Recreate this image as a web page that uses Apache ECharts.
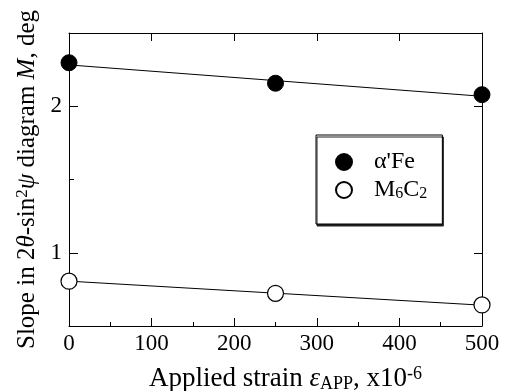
<!DOCTYPE html>
<html><head><meta charset="utf-8">
<script src="https://cdn.jsdelivr.net/npm/echarts@6/dist/echarts.min.js"></script>
<style>html,body{margin:0;padding:0;background:#fff}#c{width:507px;height:391px}</style>
</head><body><div id="c"></div>
<script>
const strain = [0, 250, 500];
const feM = [2.297, 2.157, 2.079];
const m6c2M = [0.806, 0.723, 0.644];
const fitStrain = [0, 500];
const feFit = [2.282, 2.068];
const m6c2Fit = [0.806, 0.642];
const xTickLabels = [0, 100, 200, 300, 400, 500];
const yTickLabels = [1, 2];
const yMinorTicks = [1.5];
const seriesNames = ["α'Fe", "M6C2"];

const FONT = '"Liberation Serif", "Times New Roman", serif';
const FS = 23;
const chart = echarts.init(document.getElementById('c'));
const zip = (xs, ys) => xs.map((x, i) => [x, ys[i]]);
const baseX = {min: 0, max: 500, interval: 100};
const baseY = {min: 0.5, max: 2.5};
const lineStyle = {color: '#000', width: 1};
const makeRich = (fs, ss) => ({
  n: {fontFamily: FONT, fontSize: fs, color: '#000'},
  i: {fontFamily: FONT, fontSize: fs, fontStyle: 'italic', color: '#000'},
  sup: {fontFamily: FONT, fontSize: ss, color: '#000', verticalAlign: 'top', padding: [0, 0, 10, 0]},
  sub: {fontFamily: FONT, fontSize: ss, color: '#000', verticalAlign: 'bottom', padding: [8, 0, 0, 0]}
});

chart.setOption({
  animation: false,
  grid: {left: 69, right: 25, top: 33, bottom: 65, containLabel: false, outerBoundsMode: 'none'},
  xAxis: [
    Object.assign({}, baseX, {
      type: 'value', position: 'bottom',
      axisLine: {lineStyle},
      axisTick: {inside: true, length: 8, lineStyle, customValues: xTickLabels},
      minorTick: {show: true, splitNumber: 2, length: 4, lineStyle},
      splitLine: {show: false},
      axisLabel: {customValues: xTickLabels, fontFamily: FONT, fontSize: FS, color: '#000', margin: 6},
      name: '{n|Applied strain }{i|ε}{sub|APP}{n|, x10}{sup|-6}',
      nameLocation: 'middle', nameGap: 39,
      nameTextStyle: {rich: makeRich(27, 18), padding: [0, 0, 0, 20]}
    }),
    Object.assign({}, baseX, {
      type: 'value', position: 'top',
      axisLine: {lineStyle},
      axisTick: {inside: true, length: 8, lineStyle, customValues: [100, 200, 300, 400]},
      axisLabel: {show: false}, splitLine: {show: false}
    })
  ],
  yAxis: [
    Object.assign({}, baseY, {
      type: 'value', position: 'left',
      axisLine: {show: true, lineStyle},
      axisTick: {inside: true, length: 9, lineStyle, customValues: yTickLabels},
      axisLabel: {customValues: yTickLabels, fontFamily: FONT, fontSize: FS, color: '#000', margin: 7},
      splitLine: {show: false},
      name: '{n|Slope in 2}{i|θ}{n|-sin}{sup|2}{i|ψ}{n| diagram }{i|M}{n|, deg}',
      nameLocation: 'middle', nameGap: 24, nameRotate: 90,
      nameTextStyle: {rich: makeRich(25, 17)}
    }),
    Object.assign({}, baseY, {
      type: 'value', position: 'left',
      axisLine: {show: false},
      axisTick: {inside: true, length: 5, lineStyle, customValues: yMinorTicks},
      axisLabel: {show: false}, splitLine: {show: false}
    }),
    Object.assign({}, baseY, {
      type: 'value', position: 'right',
      axisLine: {show: true, lineStyle},
      axisTick: {inside: true, length: 8, lineStyle, customValues: yTickLabels},
      axisLabel: {show: false}, splitLine: {show: false}
    })
  ],
  legend: {
    data: seriesNames,
    orient: 'vertical',
    left: 316, top: 135,
    padding: [15, 15, 22, 19],
    itemGap: 4,
    itemWidth: 16, itemHeight: 16,
    icon: 'circle',
    backgroundColor: '#fff',
    borderColor: '#000', borderWidth: 1,
    shadowColor: '#222', shadowBlur: 0, shadowOffsetX: 1, shadowOffsetY: 2,
    formatter: name => name === 'M6C2' ? '{n|M}{s|6}{n|C}{s|2}' : '{n|' + name + '}',
    textStyle: {
      padding: [0, 0, 0, 17],
      width: 76,
      rich: {
        n: {fontFamily: FONT, fontSize: 24, color: '#000'},
        s: {fontFamily: FONT, fontSize: 16, color: '#000', verticalAlign: 'bottom', padding: [8, 0, 0, 0]}
      }
    }
  },
  series: [
    {type: 'line', data: zip(fitStrain, feFit), showSymbol: false, symbol: 'none', lineStyle, z: 1, silent: true},
    {type: 'line', data: zip(fitStrain, m6c2Fit), showSymbol: false, symbol: 'none', lineStyle, z: 1, silent: true},
    {name: seriesNames[0], type: 'scatter', data: zip(strain, feM), symbolSize: 16, clip: false, z: 3,
      itemStyle: {color: '#000', borderColor: '#000', borderWidth: 1, opacity: 1}},
    {name: seriesNames[1], type: 'scatter', data: zip(strain, m6c2M), symbolSize: 16, clip: false, z: 3,
      itemStyle: {color: '#fff', borderColor: '#000', borderWidth: 1.2, opacity: 1}}
  ]
});
</script></body></html>
